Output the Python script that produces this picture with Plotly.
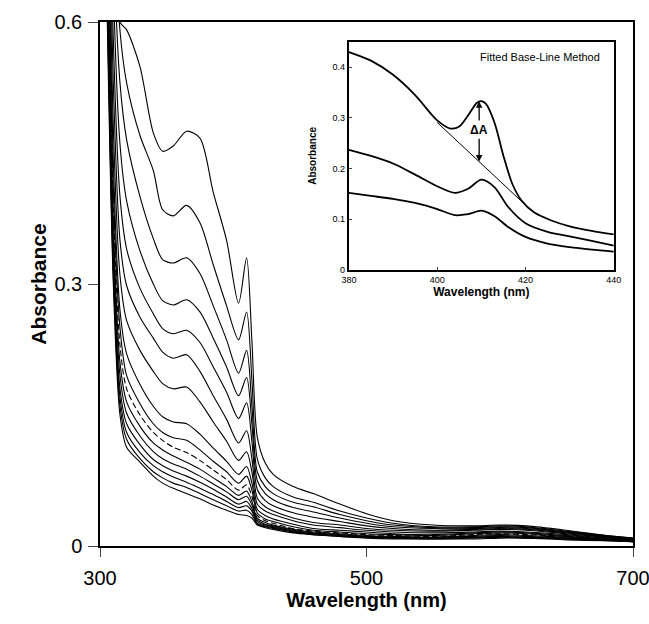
import plotly.graph_objects as go

wl = [305, 310, 315, 320, 330, 340, 347, 355, 365, 375, 385, 395, 404, 410, 414, 418, 424,
      430, 445, 460, 480, 500, 520, 550, 580, 600, 620, 650, 680, 700]

# absorbance spectra, top to bottom
s01 = [1.20, 0.78, 0.60, 0.591, 0.549, 0.473, 0.452, 0.458, 0.475, 0.467, 0.405, 0.350, 0.278, 0.330, 0.235, 0.125, 0.095,
       0.082, 0.068, 0.060, 0.048, 0.037, 0.029, 0.024, 0.023, 0.024, 0.023, 0.018, 0.012, 0.009]
s02 = [1.15, 0.74, 0.59, 0.530, 0.470, 0.430, 0.385, 0.378, 0.390, 0.370, 0.322, 0.275, 0.236, 0.268, 0.190, 0.100, 0.078,
       0.068, 0.056, 0.050, 0.040, 0.032, 0.026, 0.022, 0.022, 0.023, 0.022, 0.017, 0.012, 0.009]
s03 = [1.10, 0.70, 0.53, 0.465, 0.400, 0.352, 0.328, 0.324, 0.330, 0.312, 0.275, 0.236, 0.198, 0.224, 0.160, 0.085, 0.068,
       0.060, 0.050, 0.045, 0.036, 0.029, 0.024, 0.021, 0.021, 0.022, 0.021, 0.016, 0.011, 0.008]
s04 = [1.05, 0.64, 0.46, 0.395, 0.338, 0.300, 0.281, 0.276, 0.282, 0.268, 0.238, 0.205, 0.172, 0.193, 0.140, 0.075, 0.060,
       0.053, 0.044, 0.039, 0.032, 0.026, 0.022, 0.020, 0.020, 0.021, 0.020, 0.016, 0.011, 0.008]
s05 = [1.00, 0.58, 0.40, 0.340, 0.295, 0.266, 0.249, 0.243, 0.247, 0.233, 0.205, 0.176, 0.146, 0.164, 0.120, 0.065, 0.052,
       0.046, 0.038, 0.033, 0.028, 0.023, 0.020, 0.018, 0.019, 0.020, 0.019, 0.015, 0.010, 0.008]
s06 = [0.95, 0.53, 0.35, 0.298, 0.262, 0.238, 0.222, 0.215, 0.219, 0.200, 0.172, 0.145, 0.118, 0.132, 0.100, 0.055, 0.045,
       0.040, 0.032, 0.027, 0.024, 0.020, 0.018, 0.017, 0.018, 0.019, 0.018, 0.014, 0.010, 0.007]
s07 = [0.90, 0.48, 0.31, 0.258, 0.224, 0.200, 0.186, 0.180, 0.182, 0.165, 0.142, 0.120, 0.098, 0.108, 0.085, 0.048, 0.040,
       0.036, 0.029, 0.024, 0.021, 0.018, 0.016, 0.015, 0.016, 0.017, 0.016, 0.013, 0.009, 0.007]
s08 = [0.85, 0.44, 0.27, 0.220, 0.185, 0.160, 0.148, 0.142, 0.140, 0.128, 0.112, 0.097, 0.082, 0.091, 0.072, 0.042, 0.035,
       0.031, 0.025, 0.020, 0.018, 0.016, 0.014, 0.013, 0.015, 0.016, 0.015, 0.012, 0.009, 0.007]
s09 = [0.82, 0.41, 0.25, 0.195, 0.163, 0.140, 0.130, 0.124, 0.121, 0.110, 0.097, 0.085, 0.072, 0.080, 0.064, 0.038, 0.031,
       0.028, 0.022, 0.018, 0.016, 0.014, 0.013, 0.012, 0.014, 0.015, 0.014, 0.011, 0.008, 0.006]
s10 = [0.78, 0.39, 0.23, 0.180, 0.150, 0.130, 0.121, 0.113, 0.107, 0.098, 0.087, 0.076, 0.064, 0.070, 0.057, 0.035, 0.029,
       0.026, 0.020, 0.017, 0.015, 0.013, 0.012, 0.011, 0.013, 0.014, 0.013, 0.011, 0.008, 0.006]
s11 = [0.75, 0.37, 0.21, 0.165, 0.137, 0.118, 0.110, 0.103, 0.096, 0.088, 0.078, 0.068, 0.058, 0.063, 0.051, 0.032, 0.027,
       0.024, 0.019, 0.016, 0.014, 0.012, 0.011, 0.010, 0.012, 0.013, 0.012, 0.010, 0.008, 0.006]
s12 = [0.72, 0.35, 0.195, 0.152, 0.126, 0.108, 0.100, 0.094, 0.088, 0.080, 0.071, 0.062, 0.053, 0.057, 0.047, 0.030, 0.025,
       0.023, 0.018, 0.015, 0.013, 0.011, 0.010, 0.010, 0.011, 0.012, 0.011, 0.009, 0.007, 0.006]
s13 = [0.70, 0.33, 0.18, 0.140, 0.116, 0.099, 0.092, 0.086, 0.080, 0.073, 0.065, 0.056, 0.048, 0.051, 0.043, 0.028, 0.024,
       0.022, 0.017, 0.014, 0.012, 0.011, 0.010, 0.009, 0.010, 0.011, 0.010, 0.009, 0.007, 0.005]
s14 = [0.68, 0.32, 0.17, 0.130, 0.107, 0.092, 0.085, 0.079, 0.073, 0.066, 0.059, 0.051, 0.044, 0.046, 0.040, 0.026, 0.023,
       0.021, 0.016, 0.014, 0.012, 0.010, 0.009, 0.009, 0.010, 0.010, 0.010, 0.008, 0.007, 0.005]
s15 = [0.66, 0.31, 0.16, 0.122, 0.100, 0.085, 0.078, 0.072, 0.067, 0.060, 0.053, 0.046, 0.040, 0.041, 0.036, 0.025, 0.022,
       0.020, 0.016, 0.013, 0.011, 0.010, 0.009, 0.008, 0.009, 0.010, 0.009, 0.008, 0.006, 0.005]
s16 = [0.64, 0.30, 0.15, 0.113, 0.096, 0.080, 0.072, 0.066, 0.060, 0.054, 0.047, 0.041, 0.036, 0.035, 0.032, 0.024, 0.021,
       0.019, 0.015, 0.013, 0.011, 0.009, 0.008, 0.008, 0.008, 0.009, 0.009, 0.007, 0.006, 0.005]
spectra = [s01, s02, s03, s04, s05, s06, s07, s08, s09, s10, s11, s12, s13, s14, s15, s16]
dashed = 9  # index of the dashed spectrum

# inset: fitted base-line method
in_wl = [380, 385, 390, 395, 400, 403, 405, 407, 409, 410, 411, 413, 415, 417, 419, 422, 426, 430, 435, 440]
in_top = [0.430, 0.413, 0.385, 0.345, 0.295, 0.279, 0.283, 0.305, 0.330, 0.333, 0.328, 0.290, 0.225, 0.170, 0.138,
          0.113, 0.097, 0.086, 0.077, 0.070]
in_wl2 = [380, 385, 390, 395, 400, 404, 407, 410, 413, 416, 420, 425, 430, 435, 440]
in_mid = [0.237, 0.225, 0.210, 0.188, 0.165, 0.152, 0.160, 0.178, 0.163, 0.125, 0.092, 0.075, 0.066, 0.057, 0.048]
in_low = [0.152, 0.146, 0.140, 0.132, 0.120, 0.108, 0.110, 0.117, 0.106, 0.085, 0.065, 0.052, 0.045, 0.040, 0.036]
base_wl = [400, 420]
base_abs = [0.291, 0.128]
peak_wl, peak_abs, base_at_peak = 409.5, 0.333, 0.214

font = "Liberation Sans, Arial, Helvetica, sans-serif"

fig = go.Figure()
for i, s in enumerate(spectra):
    fig.add_trace(go.Scatter(
        x=wl, y=s, mode="lines", line_shape="spline",
        line=dict(color="black", width=1.1, smoothing=0.8,
                  dash="6px,3px" if i == dashed else "solid"),
        showlegend=False, hoverinfo="skip"))

for xs, ys in [(in_wl, in_top), (in_wl2, in_mid), (in_wl2, in_low)]:
    fig.add_trace(go.Scatter(
        x=xs, y=ys, xaxis="x2", yaxis="y2", mode="lines", line_shape="spline",
        line=dict(color="black", width=1.8, smoothing=0.8),
        showlegend=False, hoverinfo="skip"))
fig.add_trace(go.Scatter(
    x=base_wl, y=base_abs, xaxis="x2", yaxis="y2", mode="lines",
    line=dict(color="black", width=1), showlegend=False, hoverinfo="skip"))

fig.update_layout(
    width=649, height=624,
    margin=dict(l=100, r=16, t=22, b=78),
    paper_bgcolor="white", plot_bgcolor="white",
    font=dict(family=font, color="black"),
    xaxis=dict(
        range=[300, 700], tickvals=[300, 500, 700], ticks="outside", ticklen=9,
        tickwidth=1.3, showline=True, linewidth=1.5, linecolor="black", mirror=True,
        showgrid=False, zeroline=False, tickfont=dict(size=20), ticklabelstandoff=4,
        automargin=False, ticklabeloverflow="allow",
        title=dict(text="Wavelength (nm)", font=dict(size=20, weight="bold"), standoff=4)),
    yaxis=dict(
        range=[0, 0.6], tickvals=[0, 0.3, 0.6], ticktext=["0", "0.3", "0.6"], ticks="outside",
        ticklen=10, tickwidth=1.3, showline=True, linewidth=1.5, linecolor="black", mirror=True,
        showgrid=False, zeroline=False, tickfont=dict(size=20), ticklabelstandoff=2, automargin=False,
        title=dict(text="Absorbance", font=dict(size=21, weight="bold"), standoff=2)),
    xaxis2=dict(
        domain=[0.467, 0.964], anchor="y2", range=[380, 440], tickvals=[380, 400, 420, 440],
        ticks="inside", ticklen=3, showline=True, linewidth=2, linecolor="black", mirror=True,
        showgrid=False, zeroline=False, tickfont=dict(size=9), automargin=False,
        title=dict(text="Wavelength (nm)", font=dict(size=12, weight="bold"), standoff=4)),
    yaxis2=dict(
        domain=[0.527, 0.962], anchor="x2", range=[0, 0.45], tickvals=[0, 0.1, 0.2, 0.3, 0.4],
        ticktext=["0", "0.1", "0.2", "0.3", "0.4"],
        ticks="inside", ticklen=3, showline=True, linewidth=2, linecolor="black", mirror=True,
        showgrid=False, zeroline=False, tickfont=dict(size=9), automargin=False,
        title=dict(text="Absorbance", font=dict(size=10, weight="bold"), standoff=14)),
)

fig.add_annotation(x=0.72, y=0.934, xref="x2 domain", yref="y2 domain", text="Fitted Base-Line Method",
                   xanchor="center", yanchor="middle", showarrow=False, font=dict(size=11))
fig.add_annotation(x=peak_wl, y=0.277, xref="x2", yref="y2", text="ΔA", showarrow=False,
                   font=dict(size=12, weight="bold"))
fig.add_annotation(x=peak_wl, y=peak_abs, ax=peak_wl, ay=0.292, xref="x2", yref="y2", axref="x2", ayref="y2",
                   text="", showarrow=True, arrowhead=2, arrowsize=1, arrowwidth=1.3, arrowcolor="black")
fig.add_annotation(x=peak_wl, y=base_at_peak, ax=peak_wl, ay=0.262, xref="x2", yref="y2", axref="x2", ayref="y2",
                   text="", showarrow=True, arrowhead=2, arrowsize=1, arrowwidth=1.3, arrowcolor="black")

# no page margin / scrollbars, no modebar: the figure fills the window exactly
fig.write_html("out.html", config={"displayModeBar": False, "responsive": False},
               post_script="document.body.style.margin = '0'; document.body.style.overflow = 'hidden';")
